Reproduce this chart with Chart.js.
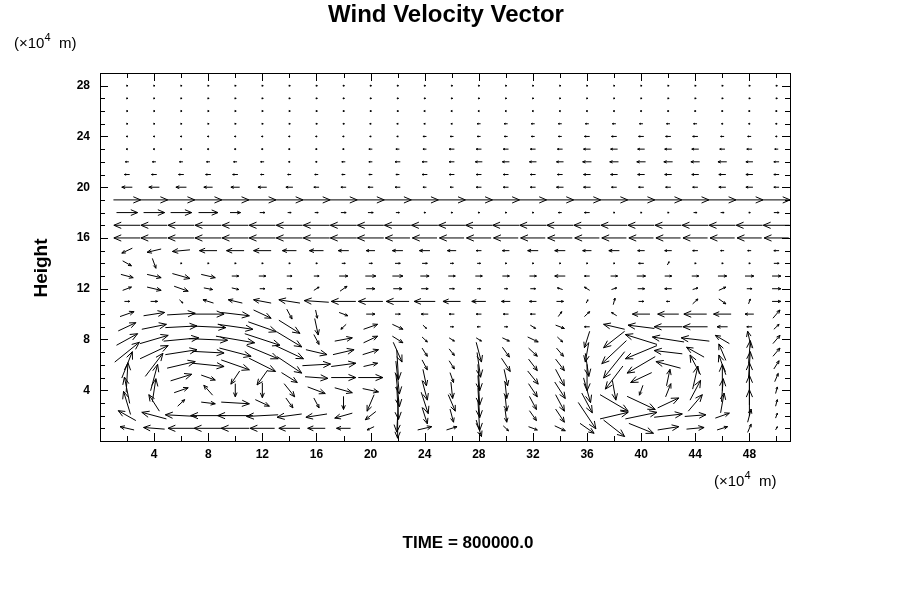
<!DOCTYPE html>
<html>
<head>
<meta charset="utf-8">
<script src="https://cdn.jsdelivr.net/npm/chart.js@4"></script>
<style>
  body { margin: 0; background: #fff; }
  #wrap { width: 900px; height: 600px; }
</style>
</head>
<body>
<div id="wrap"><canvas id="wind" width="900" height="600"></canvas></div>
<script>
// grid positions (x10^4 m)
const xGrid = [2,4,6,8,10,12,14,16,18,20,22,24,26,28,30,32,34,36,38,40,42,44,46,48,50];
const yGrid = [1,2,3,4,5,6,7,8,9,10,11,12,13,14,15,16,17,18,19,20,21,22,23,24,25,26,27,28];
const xTicks = [4,8,12,16,20,24,28,32,36,40,44,48];
const yTicks = [4,8,12,16,20,24,28];

// horizontal component, one row per height (y = 1 .. 28)
const uRows = [
  [-0.8,-1.2,-1.5,-1.6,-1.6,-1.4,-1.2,-1.0,-0.8,-0.4,0.0,0.8,0.6,0.3,0.3,0.5,0.6,0.8,1.2,1.4,1.2,1.0,0.6,0.2,0.1],
  [-1.0,-1.4,-1.8,-2.0,-2.0,-1.8,-1.4,-1.2,-1.0,-0.6,-0.1,0.3,0.2,0.1,0.1,0.4,0.5,1.0,1.6,1.8,1.6,1.2,0.8,0.2,0.1],
  [-0.4,-0.6,0.4,0.8,1.6,0.8,0.4,0.3,0.0,-0.4,0.1,0.4,0.4,0.1,0.1,0.4,0.5,0.6,1.6,1.6,1.2,0.8,0.2,0.0,0.1],
  [-0.3,0.2,0.8,-0.5,0.0,0.0,0.6,1.0,1.0,0.9,0.2,0.3,0.1,0.1,0.1,0.5,0.6,0.4,0.2,-0.2,0.3,0.6,0.1,0.0,0.1],
  [0.1,0.4,1.2,0.8,-0.5,-0.6,0.9,1.3,1.4,1.4,0.2,0.2,0.2,0.1,0.2,0.6,0.5,0.0,-1.0,-1.2,0.2,0.3,0.0,0.0,0.2],
  [0.6,1.0,1.6,1.8,1.6,1.5,1.4,1.6,1.4,0.8,0.1,0.3,0.3,0.2,0.5,0.5,0.5,0.2,-1.2,-1.6,-1.4,-0.6,-0.4,0.1,0.3],
  [1.4,1.6,1.8,1.8,1.8,1.8,1.6,1.2,1.2,0.9,0.5,0.3,0.3,0.3,0.4,0.5,0.4,-0.2,-1.4,-1.8,-1.6,-1.0,-0.4,0.1,0.4],
  [1.2,1.6,2.0,2.2,2.2,2.0,1.4,0.3,1.0,0.8,0.6,0.3,0.3,0.3,0.4,0.6,0.3,-0.3,-1.2,-1.8,-1.8,-1.6,-0.8,-0.2,0.4],
  [1.0,1.4,1.8,2.0,2.0,1.6,1.2,0.2,-0.3,0.8,0.6,0.2,0.2,-0.2,0.2,0.3,0.5,-0.3,-1.2,-1.5,-1.6,-1.4,-0.6,-0.3,0.3],
  [0.8,1.2,1.6,1.8,1.6,1.0,0.3,0.1,0.5,0.5,0.3,-0.4,-0.3,-0.3,-0.3,-0.3,0.2,0.3,-0.3,-1.0,-1.2,-1.3,-1.0,-0.5,0.4],
  [0.3,0.4,0.2,-0.6,-0.8,-1.0,-1.2,-1.4,-1.4,-1.4,-1.3,-1.2,-1.0,-0.8,-0.5,-0.4,0.4,0.1,0.1,0.3,-0.2,0.3,0.4,0.1,0.5],
  [0.5,0.8,0.8,0.5,0.4,0.3,0.3,0.3,0.4,0.5,0.5,0.4,0.3,0.2,0.2,0.3,-0.3,-0.3,0.3,0.4,-0.4,0.3,0.4,0.3,0.5],
  [0.7,0.8,1.0,0.8,0.4,0.4,0.3,0.3,0.5,0.6,0.6,0.5,0.4,0.4,0.4,0.4,-0.6,-0.3,0.4,0.5,0.4,0.4,0.5,0.5,0.5],
  [0.5,0.2,0.1,0.1,0.1,0.1,0.1,0.1,0.2,0.2,0.3,0.3,0.2,0.2,0.1,0.1,0.1,0.1,0.1,-0.3,0.1,0.1,0.1,0.1,0.3],
  [-0.6,-0.8,-1.0,-1.0,-1.0,-1.0,-0.8,-0.8,-0.6,-0.5,-0.6,-0.6,-0.5,-0.3,-0.4,-0.6,-0.6,-0.5,-0.6,-0.4,-0.4,-0.3,-0.2,-0.2,-0.3],
  [-1.5,-1.5,-1.5,-1.5,-1.5,-1.5,-1.5,-1.5,-1.5,-1.5,-1.4,-1.4,-1.4,-1.4,-1.4,-1.4,-1.4,-1.4,-1.4,-1.4,-1.4,-1.4,-1.4,-1.4,-1.4],
  [-1.5,-1.5,-1.5,-1.5,-1.5,-1.5,-1.5,-1.5,-1.5,-1.5,-1.5,-1.5,-1.5,-1.5,-1.5,-1.5,-1.5,-1.5,-1.5,-1.5,-1.5,-1.5,-1.5,-1.5,-1.5],
  [1.2,1.2,1.2,1.1,0.6,0.3,0.2,0.2,0.3,0.3,0.2,0.1,0.1,0.1,0.1,0.1,-0.2,-0.3,0.1,0.1,0.1,0.2,0.2,0.1,0.3],
  [1.55,1.55,1.55,1.55,1.55,1.55,1.55,1.55,1.55,1.55,1.55,1.55,1.55,1.55,1.55,1.55,1.55,1.55,1.55,1.55,1.55,1.55,1.55,1.55,1.55],
  [-0.6,-0.6,-0.6,-0.5,-0.5,-0.5,-0.4,-0.3,-0.3,-0.3,-0.3,-0.2,-0.2,-0.3,-0.3,-0.3,-0.4,-0.4,-0.3,-0.3,-0.3,-0.3,-0.4,-0.4,-0.3],
  [-0.3,-0.3,-0.3,-0.3,-0.3,-0.2,-0.2,-0.2,-0.2,-0.2,-0.2,-0.3,-0.3,-0.3,-0.3,-0.3,-0.3,-0.4,-0.4,-0.4,-0.4,-0.4,-0.4,-0.4,-0.3],
  [-0.2,-0.2,-0.2,-0.2,-0.2,-0.2,-0.1,-0.1,-0.2,-0.2,-0.3,-0.3,-0.3,-0.4,-0.4,-0.4,-0.4,-0.5,-0.5,-0.5,-0.5,-0.5,-0.5,-0.4,-0.3],
  [-0.1,-0.1,-0.1,-0.1,-0.1,-0.1,-0.1,-0.1,-0.1,-0.2,-0.2,-0.2,-0.3,-0.3,-0.3,-0.3,-0.3,-0.4,-0.4,-0.4,-0.4,-0.4,-0.3,-0.3,-0.2],
  [-0.1,-0.1,-0.1,-0.1,-0.1,-0.1,-0.1,-0.1,-0.1,-0.1,-0.1,-0.2,-0.2,-0.2,-0.2,-0.2,-0.2,-0.3,-0.3,-0.3,-0.3,-0.3,-0.2,-0.2,-0.1],
  [0.1,0.1,0.1,0.1,0.1,0.1,0.1,0.1,0.1,-0.1,-0.1,-0.1,-0.1,-0.2,-0.2,-0.2,-0.2,-0.2,-0.2,-0.2,-0.2,-0.2,-0.1,-0.1,-0.1],
  [0.1,0.1,0.1,0.1,0.1,0.1,0.1,0.1,0.1,0.1,0.1,-0.1,-0.1,-0.1,-0.1,-0.1,-0.1,-0.1,-0.1,-0.1,-0.1,-0.1,-0.1,-0.1,-0.1],
  [0.1,0.1,0.1,0.1,0.1,0.1,0.1,0.1,0.1,0.1,0.1,0.1,0.1,0.1,0.1,0.1,0.1,0.1,0.1,0.1,0.1,0.1,0.1,0.1,0.1],
  [0.1,0.1,0.1,0.1,0.1,0.1,0.1,0.1,0.1,0.1,0.1,0.1,0.1,0.1,0.1,0.1,0.1,0.1,0.1,0.1,0.1,0.1,0.1,0.1,0.1]
];

// vertical component, rows 1 .. 10
const vRows = [
  [0.2,0.1,0,0,0,0,0,0,0,-0.2,-1.2,0.2,0.2,-1.0,-0.3,-0.2,-0.3,-0.6,-1.0,-0.6,0.2,0.1,0.2,0.5,0.2],
  [0.6,0.4,0.1,0,0,-0.1,-0.2,-0.2,-0.3,-0.5,-2.0,-1.0,-0.8,-1.8,-0.8,-0.6,-0.8,-1.6,0.4,0.4,0.2,0.1,0.3,0.8,0.3],
  [1.4,1.0,0.4,-0.1,-0.1,-0.4,-0.6,-0.6,-0.8,-1.0,-2.0,-1.3,-1.0,-1.8,-1.0,-0.8,-1.0,-1.2,-1.0,-0.8,0.6,1.0,1.2,1.6,0.4],
  [1.6,1.4,0.3,0.6,-0.8,-0.9,-0.8,-0.4,-0.3,-0.2,-2.0,-1.2,-1.0,-1.8,-1.0,-0.8,-1.0,-1.5,-1.2,-0.6,0.8,1.2,1.4,1.8,0.4],
  [1.8,1.6,0.4,-0.3,-0.8,-0.9,-0.6,-0.1,0.0,0.0,-2.0,-1.0,-0.6,-1.6,-1.0,-0.8,-1.0,-1.6,-1.4,-0.6,1.0,1.4,1.6,1.8,0.5],
  [1.6,1.4,0.4,-0.2,-0.6,-0.8,-1.0,0.1,0.2,0.2,-1.8,-0.6,-0.5,-1.5,-0.8,-0.7,-0.7,-1.4,-1.6,-1.0,0.4,1.2,1.2,1.6,0.5],
  [1.2,0.8,0.3,-0.1,-0.5,-0.8,-0.8,-0.3,0.3,0.3,-1.2,-0.5,-0.4,-1.2,-0.6,-0.5,-0.5,-1.2,-1.4,-0.8,0.2,0.6,1.0,1.4,0.5],
  [0.7,0.5,0.2,-0.1,-0.4,-0.7,-0.9,-0.6,0.2,0.4,-0.4,-0.3,-0.2,-0.2,-0.2,-0.3,-0.3,-1.0,-1.0,0.6,0.3,0.2,0.5,1.0,0.5],
  [0.5,0.3,0.1,-0.1,-0.3,-0.6,-0.8,-1.0,-0.3,0.3,-0.3,-0.2,0,0,0,-0.2,-0.2,0,0.3,0.2,0,0,0,0,0.3],
  [0.3,0.2,0.1,0,-0.2,-0.5,-0.6,-0.5,-0.2,0,0,0,0,0,0,0,0.3,0.3,0.2,0,0,0,0,0,0.5]
];
// vertical component, rows 11 .. 15
const vUpper = [
  [0,0,-0.2,0.2,0.2,0.2,0.2,0.1,0,0,0,0,0,0,0,0,0,0.2,0.4,0,0,0.3,-0.3,0.3,0],
  [0.2,-0.2,-0.3,-0.1,-0.1,0,0,0.2,0.3,0,0,0,0,0,0,0,0.1,0.2,0.1,0,0,0.1,0.2,0,0],
  [-0.2,-0.2,-0.3,-0.2,0,0,0,0,0,0,0,0,0,0,0,0,0,0,0,0,0,0,0,0,0],
  [-0.3,-0.6,0,0,0,0,0,0,0,0,0,0,0,0,0,0,0,0,0,0,0.2,0,0,0,0],
  [-0.3,-0.2,-0.1,0,0,0,0,0,0,0,0,0,0,0,0,0,0,0,0,0,0,0,0,0,0]
];
const arrowScale = 1.3;

const points = [];
yGrid.forEach((y, j) => {
  xGrid.forEach((x, i) => {
    let v = 0;
    if (j < 10) v = vRows[j][i];
    else if (j < 15) v = vUpper[j - 10][i];
    points.push({ x: x, y: y, u: uRows[j][i], v: v });
  });
});

function unitLabel(ctx, x, y) {
  ctx.textAlign = 'left';
  ctx.font = '15px "Liberation Sans", Arial, sans-serif';
  let cx = x;
  ctx.fillText('(\u00d710', cx, y); cx += ctx.measureText('(\u00d710').width;
  ctx.font = '11px "Liberation Sans", Arial, sans-serif';
  ctx.fillText('4', cx, y - 6); cx += ctx.measureText('4').width;
  ctx.font = '15px "Liberation Sans", Arial, sans-serif';
  ctx.fillText('  m)', cx, y);
}

const vectorPlugin = {
  id: 'vectors',
  afterDatasetsDraw(chart) {
    const { ctx, chartArea: a, scales: { x, y } } = chart;
    ctx.save();
    ctx.strokeStyle = '#000';
    ctx.lineWidth = 1;
    chart.data.datasets[0].data.forEach(p => {
      const du = p.u * arrowScale / 2, dv = p.v * arrowScale / 2;
      const x0 = x.getPixelForValue(p.x - du);
      const x1 = x.getPixelForValue(p.x + du);
      const y0 = y.getPixelForValue(p.y - dv);
      const y1 = y.getPixelForValue(p.y + dv);
      const dx = x1 - x0, dy = y1 - y0;
      const len = Math.hypot(dx, dy);
      ctx.beginPath();
      ctx.moveTo(x0, y0);
      ctx.lineTo(x1, y1);
      if (len > 0.5) {
        const ang = Math.atan2(dy, dx);
        const h = Math.min(8, Math.max(1.5, len * 0.35));
        ctx.moveTo(x1, y1);
        ctx.lineTo(x1 - h * Math.cos(ang - 0.4), y1 - h * Math.sin(ang - 0.4));
        ctx.moveTo(x1, y1);
        ctx.lineTo(x1 - h * Math.cos(ang + 0.4), y1 - h * Math.sin(ang + 0.4));
      }
      ctx.stroke();
    });
    // frame and inward ticks
    ctx.strokeRect(a.left + 0.5, a.top + 0.5, a.right - a.left, a.bottom - a.top);
    ctx.beginPath();
    for (let t = 2; t <= 50; t += 2) {
      const px = Math.round(x.getPixelForValue(t)) + 0.5;
      const len = t % 4 === 0 ? 8 : 5;
      ctx.moveTo(px, a.bottom); ctx.lineTo(px, a.bottom - len);
      ctx.moveTo(px, a.top); ctx.lineTo(px, a.top + len);
    }
    for (let t = 1; t <= 29; t += 1) {
      const py = Math.round(y.getPixelForValue(t)) + 0.5;
      const len = t % 4 === 0 ? 8 : 5;
      ctx.moveTo(a.left, py); ctx.lineTo(a.left + len, py);
      ctx.moveTo(a.right, py); ctx.lineTo(a.right - len, py);
    }
    ctx.stroke();
    // texts
    ctx.fillStyle = '#000';
    ctx.textAlign = 'center';
    ctx.textBaseline = 'middle';
    ctx.font = 'bold 24px "Liberation Sans", Arial, sans-serif';
    ctx.fillText('Wind Velocity Vector', 446, 15);
    ctx.font = 'bold 17px "Liberation Sans", Arial, sans-serif';
    ctx.fillText('TIME = 800000.0', 468, 543);
    unitLabel(ctx, 14, 44);
    unitLabel(ctx, 714, 482);
    ctx.save();
    ctx.textAlign = 'center';
    ctx.translate(42, 268);
    ctx.rotate(-Math.PI / 2);
    ctx.font = 'bold 19px "Liberation Sans", Arial, sans-serif';
    ctx.fillText('Height', 0, 0);
    ctx.restore();
    ctx.restore();
  }
};

const tickFont = { family: '"Liberation Sans", Arial, sans-serif', size: 12, weight: 'bold' };

new Chart(document.getElementById('wind'), {
  type: 'scatter',
  data: { datasets: [{ data: points, pointRadius: 0, showLine: false }] },
  options: {
    responsive: false,
    animation: false,
    layout: { padding: { top: 73, right: 110, left: 0, bottom: 0 } },
    plugins: { legend: { display: false }, tooltip: { enabled: false } },
    scales: {
      x: {
        type: 'linear', min: 0, max: 51,
        afterFit: s => { s.height = 159; },
        afterBuildTicks: s => { s.ticks = xTicks.map(v => ({ value: v })); },
        grid: { display: false, drawTicks: false },
        border: { display: false },
        ticks: { color: '#000', font: tickFont, padding: 6, maxRotation: 0 }
      },
      y: {
        type: 'linear', min: 0, max: 29,
        afterFit: s => { s.width = 100; },
        afterBuildTicks: s => { s.ticks = yTicks.map(v => ({ value: v })); },
        grid: { display: false, drawTicks: false },
        border: { display: false },
        ticks: { color: '#000', font: tickFont, padding: 10 }
      }
    }
  },
  plugins: [vectorPlugin]
});
</script>
</body>
</html>
